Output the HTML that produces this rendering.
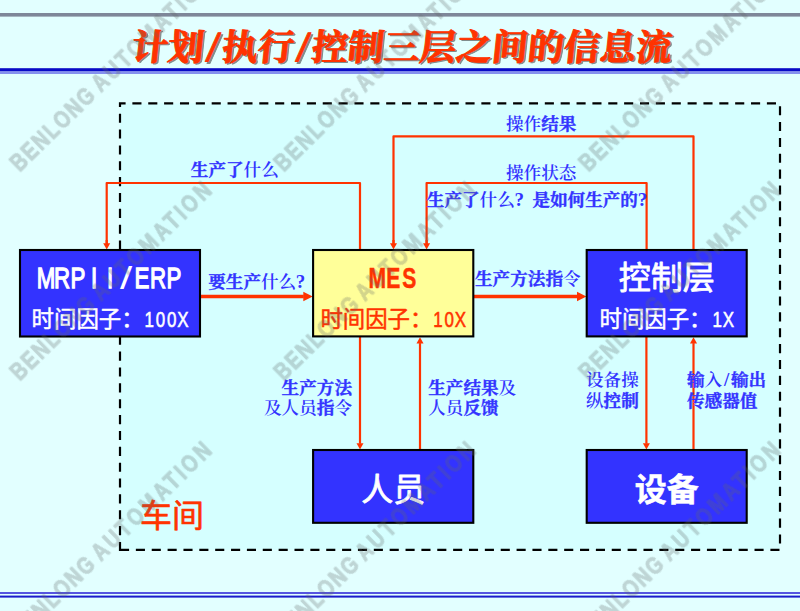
<!DOCTYPE html>
<html lang="zh-CN"><head><meta charset="utf-8"><title>计划/执行/控制三层之间的信息流</title>
<style>html,body{margin:0;padding:0;background:#e2ffff;overflow:hidden}svg{display:block}.sans{font-family:"Liberation Sans","Noto Sans CJK SC",sans-serif}.serif{font-family:"Liberation Serif","Noto Serif CJK SC",serif}</style></head><body>
<svg width="800" height="611" viewBox="0 0 800 611">
<rect width="800" height="611" fill="#e2ffff"/>
<rect x="0" y="13" width="800" height="3.6" fill="#7e8799"/>
<rect x="0" y="68.2" width="800" height="3.3" fill="#0909c6"/>
<rect x="0" y="71.5" width="800" height="2.5" fill="#8590ee"/>
<rect x="0" y="592" width="800" height="2" fill="#5555e0"/>
<rect x="0" y="595.6" width="800" height="2" fill="#1b1bcb"/>
<rect x="120" y="103.4" width="660" height="446.4" fill="#d5ffff"/>
<path d="M120,549.8 H780 V103.4 H120 Z" fill="none" stroke="#000" stroke-width="2.2" stroke-dasharray="9.1 6.763"/>
<path d="M360,250 V183 H106.7 V244" fill="none" stroke="#ff3300" stroke-width="2.2" stroke-linejoin="round"/>
<path d="M106.7,240.0 V243.7" fill="none" stroke="#ff3300" stroke-width="2.2"/>
<path d="M103.2,243.2 L110.2,243.2 L106.7,249.6 Z" fill="#ff3300"/>
<path d="M693.5,250 V136.3 H393.5 V244" fill="none" stroke="#ff3300" stroke-width="2.2" stroke-linejoin="round"/>
<path d="M393.5,240.0 V243.7" fill="none" stroke="#ff3300" stroke-width="2.2"/>
<path d="M390.0,243.2 L397.0,243.2 L393.5,249.6 Z" fill="#ff3300"/>
<path d="M646.6,250 V183 H426.6 V244" fill="none" stroke="#ff3300" stroke-width="2.2" stroke-linejoin="round"/>
<path d="M426.6,240.0 V243.7" fill="none" stroke="#ff3300" stroke-width="2.2"/>
<path d="M423.1,243.2 L430.1,243.2 L426.6,249.6 Z" fill="#ff3300"/>
<path d="M360.0,336.0 V443.7" fill="none" stroke="#ff3300" stroke-width="2.2"/>
<path d="M356.5,443.2 L363.5,443.2 L360.0,449.6 Z" fill="#ff3300"/>
<path d="M420.0,450.0 V343.1" fill="none" stroke="#ff3300" stroke-width="2.2"/>
<path d="M416.5,343.6 L423.5,343.6 L420.0,337.2 Z" fill="#ff3300"/>
<path d="M646.4,336.0 V443.7" fill="none" stroke="#ff3300" stroke-width="2.2"/>
<path d="M642.9,443.2 L649.9,443.2 L646.4,449.6 Z" fill="#ff3300"/>
<path d="M693.5,450.0 V343.1" fill="none" stroke="#ff3300" stroke-width="2.2"/>
<path d="M690.0,343.6 L697.0,343.6 L693.5,337.2 Z" fill="#ff3300"/>
<path d="M200.0,296.5 H303.8" fill="none" stroke="#ff3300" stroke-width="3.5"/>
<path d="M303.3,291.7 L303.3,301.3 L312.7,296.5 Z" fill="#ff3300"/>
<path d="M473.0,296.5 H577.5" fill="none" stroke="#ff3300" stroke-width="3.5"/>
<path d="M577.0,291.7 L577.0,301.3 L586.4,296.5 Z" fill="#ff3300"/>
<rect x="20.0" y="250.0" width="180.0" height="86.5" fill="#3333ff" stroke="#000" stroke-width="2.1"/>
<rect x="313.1" y="250.0" width="160.2" height="86.4" fill="#ffff99" stroke="#000" stroke-width="2.1"/>
<rect x="586.7" y="250.0" width="160.0" height="86.4" fill="#3333ff" stroke="#000" stroke-width="2.1"/>
<rect x="313.1" y="450.0" width="160.2" height="72.8" fill="#3333ff" stroke="#000" stroke-width="2.1"/>
<rect x="586.7" y="450.0" width="160.0" height="72.8" fill="#3333ff" stroke="#000" stroke-width="2.1"/>
<text class="sans" transform="scale(0.760,1)" x="60.53 81.58 102.63 123.68 144.74" y="287.8" font-size="29.3" font-weight="400" fill="#fff" text-anchor="middle" stroke="#fff" stroke-width="1.30">MRPII</text>
<text class="sans" transform="translate(126.00,289.3) scale(1.5,1.1)" x="0" y="0" font-size="29.3" font-weight="400" fill="#fff" text-anchor="middle">/</text>
<text class="sans" transform="scale(0.760,1)" x="186.84 207.89 228.95" y="287.8" font-size="29.3" font-weight="400" fill="#fff" text-anchor="middle" stroke="#fff" stroke-width="1.30">ERP</text>
<text class="sans" transform="scale(0.720,1)" x="523.89 546.11 568.33" y="287.8" font-size="29.3" font-weight="700" fill="#ff3300" text-anchor="middle" stroke="#ff3300" stroke-width="0.50">MES</text>
<text class="sans" x="666.7" y="289.2" font-size="32.0" font-weight="400" fill="#fff" text-anchor="middle" textLength="96" stroke="#fff" stroke-width="0.80" stroke-linejoin="round">控制层</text>
<text class="sans" x="393.2" y="500.8" font-size="32.0" font-weight="400" fill="#fff" text-anchor="middle" textLength="64" stroke="#fff" stroke-width="0.80" stroke-linejoin="round">人员</text>
<text class="sans" x="666.7" y="500.8" font-size="32.0" font-weight="700" fill="#fff" text-anchor="middle" textLength="64" stroke="#fff" stroke-width="0.50" stroke-linejoin="round">设备</text>
<text class="sans" x="31.6" y="326.8" font-size="22.4" font-weight="400" fill="#fff" text-anchor="start" textLength="112" stroke="#fff" stroke-width="0.50" stroke-linejoin="round">时间因子：</text>
<text class="sans" transform="scale(0.760,1)" x="196.32 211.05 225.79 240.53" y="326.8" font-size="22.3" font-weight="400" fill="#fff" text-anchor="middle" stroke="#fff" stroke-width="0.60">100X</text>
<text class="sans" x="320.4" y="326.8" font-size="22.4" font-weight="400" fill="#ff3300" text-anchor="start" textLength="112" stroke="#ff3300" stroke-width="0.50" stroke-linejoin="round">时间因子：</text>
<text class="sans" transform="scale(0.760,1)" x="576.32 591.05 605.79" y="326.8" font-size="22.3" font-weight="400" fill="#ff3300" text-anchor="middle" stroke="#ff3300" stroke-width="0.60">10X</text>
<text class="sans" x="599.5" y="326.8" font-size="22.4" font-weight="400" fill="#fff" text-anchor="start" textLength="112" stroke="#fff" stroke-width="0.50" stroke-linejoin="round">时间因子：</text>
<text class="sans" transform="scale(0.760,1)" x="943.55 958.29" y="326.8" font-size="22.3" font-weight="400" fill="#fff" text-anchor="middle" stroke="#fff" stroke-width="0.60">1X</text>
<text class="sans" x="140.0" y="526.8" font-size="32.0" font-weight="400" fill="#ff3300" text-anchor="start" textLength="64" stroke="#ff3300" stroke-width="0.60" stroke-linejoin="round">车间</text>
<defs><filter id="soft" x="-5%" y="-20%" width="110%" height="140%"><feGaussianBlur stdDeviation="0.6"/></filter></defs>
<g filter="url(#soft)">
<g class="serif" font-size="36" font-weight="700" fill="#808c8c" stroke="#808c8c" stroke-width="1.0" stroke-linejoin="round" transform="translate(2.6,61.3) skewX(-6)">
<text x="130.0" y="0" textLength="72">计划</text>
<text x="211.0" y="1.5" font-size="43" text-anchor="middle">/</text>
<text x="220.0" y="0" textLength="72">执行</text>
<text x="301.0" y="1.5" font-size="43" text-anchor="middle">/</text>
<text x="310.0" y="0" textLength="360">控制三层之间的信息流</text>
</g>
</g>
<g class="serif" font-size="36" font-weight="700" fill="#ff3300" stroke="#ff3300" stroke-width="1.0" stroke-linejoin="round" transform="translate(0.8,59.5) skewX(-6)">
<text x="130.0" y="0" textLength="72">计划</text>
<text x="211.0" y="1.5" font-size="43" text-anchor="middle">/</text>
<text x="220.0" y="0" textLength="72">执行</text>
<text x="301.0" y="1.5" font-size="43" text-anchor="middle">/</text>
<text x="310.0" y="0" textLength="360">控制三层之间的信息流</text>
</g>
<text class="serif" x="190.8" y="176.3" font-size="17.6" font-weight="700" fill="#3333ff" stroke="#3333ff" stroke-width="0.35">生产了</text>
<text class="serif" x="243.6" y="176.3" font-size="17.6" font-weight="600" fill="#3333ff">什么</text>
<text class="serif" x="208.2" y="287.7" font-size="17.6" font-weight="700" fill="#3333ff" stroke="#3333ff" stroke-width="0.35">要生产</text>
<text class="serif" x="261.0" y="287.7" font-size="17.6" font-weight="600" fill="#3333ff">什么</text>
<text class="serif" x="300.6" y="287.7" font-size="19.0" font-weight="600" fill="#3333ff" text-anchor="middle">?</text>
<text class="serif" x="475.0" y="285.2" font-size="17.6" font-weight="700" fill="#3333ff" stroke="#3333ff" stroke-width="0.35">生产方法指</text>
<text class="serif" x="563.0" y="285.2" font-size="17.6" font-weight="600" fill="#3333ff">令</text>
<text class="serif" x="506.0" y="129.5" font-size="17.6" font-weight="600" fill="#3333ff">操作</text>
<text class="serif" x="541.2" y="129.5" font-size="17.6" font-weight="700" fill="#3333ff" stroke="#3333ff" stroke-width="0.35">结果</text>
<text class="serif" x="506.0" y="179.0" font-size="17.6" font-weight="600" fill="#3333ff">操作状态</text>
<text class="serif" x="426.8" y="206.2" font-size="17.6" font-weight="700" fill="#3333ff" stroke="#3333ff" stroke-width="0.35">生产了</text>
<text class="serif" x="479.6" y="206.2" font-size="17.6" font-weight="600" fill="#3333ff">什么</text>
<text class="serif" x="519.2" y="206.2" font-size="19.0" font-weight="600" fill="#3333ff" text-anchor="middle">?</text>
<text class="serif" x="532.4" y="206.2" font-size="17.6" font-weight="700" fill="#3333ff" stroke="#3333ff" stroke-width="0.35">是如何生产的</text>
<text class="serif" x="642.4" y="206.2" font-size="19.0" font-weight="600" fill="#3333ff" text-anchor="middle">?</text>
<text class="serif" x="281.6" y="393.8" font-size="17.6" font-weight="700" fill="#3333ff" stroke="#3333ff" stroke-width="0.35">生产方法</text>
<text class="serif" x="264.0" y="414.4" font-size="17.6" font-weight="600" fill="#3333ff">及人员</text>
<text class="serif" x="316.8" y="414.4" font-size="17.6" font-weight="700" fill="#3333ff" stroke="#3333ff" stroke-width="0.35">指</text>
<text class="serif" x="334.4" y="414.4" font-size="17.6" font-weight="600" fill="#3333ff">令</text>
<text class="serif" x="428.2" y="393.8" font-size="17.6" font-weight="700" fill="#3333ff" stroke="#3333ff" stroke-width="0.35">生产结果</text>
<text class="serif" x="498.6" y="393.8" font-size="17.6" font-weight="600" fill="#3333ff">及</text>
<text class="serif" x="428.2" y="414.4" font-size="17.6" font-weight="600" fill="#3333ff">人员</text>
<text class="serif" x="463.4" y="414.4" font-size="17.6" font-weight="700" fill="#3333ff" stroke="#3333ff" stroke-width="0.35">反馈</text>
<text class="serif" x="586.0" y="386.2" font-size="17.6" font-weight="600" fill="#3333ff">设备操</text>
<text class="serif" x="586.0" y="407.0" font-size="17.6" font-weight="600" fill="#3333ff">纵</text>
<text class="serif" x="603.6" y="407.0" font-size="17.6" font-weight="700" fill="#3333ff" stroke="#3333ff" stroke-width="0.35">控制</text>
<text class="serif" x="687.0" y="386.2" font-size="17.6" font-weight="700" fill="#3333ff" stroke="#3333ff" stroke-width="0.35">输</text>
<text class="serif" x="704.6" y="386.2" font-size="17.6" font-weight="600" fill="#3333ff">入</text>
<text class="serif" x="726.6" y="386.2" font-size="19.0" font-weight="600" fill="#3333ff" text-anchor="middle">/</text>
<text class="serif" x="731.0" y="386.2" font-size="17.6" font-weight="700" fill="#3333ff" stroke="#3333ff" stroke-width="0.35">输出</text>
<text class="serif" x="687.0" y="407.0" font-size="17.6" font-weight="700" fill="#3333ff" stroke="#3333ff" stroke-width="0.35">传感器值</text>
<g font-family='"Liberation Sans",sans-serif' font-size="23" font-weight="700" fill="#646a6a" stroke="#646a6a" stroke-width="1.0" stroke-linejoin="round" opacity="0.28">
<g transform="translate(20.6,171.7) rotate(-44.4)"><text transform="scale(0.84,1)" x="-1.5" textLength="128.1" lengthAdjust="spacing">BENLONG</text><text transform="scale(0.84,1)" x="134.0" textLength="186.7" lengthAdjust="spacing">AUTOMATION</text></g>
<g transform="translate(284.6,171.7) rotate(-44.4)"><text transform="scale(0.84,1)" x="-1.5" textLength="128.1" lengthAdjust="spacing">BENLONG</text><text transform="scale(0.84,1)" x="134.0" textLength="186.7" lengthAdjust="spacing">AUTOMATION</text></g>
<g transform="translate(589.4,171.7) rotate(-44.4)"><text transform="scale(0.84,1)" x="-1.5" textLength="128.1" lengthAdjust="spacing">BENLONG</text><text transform="scale(0.84,1)" x="134.0" textLength="186.7" lengthAdjust="spacing">AUTOMATION</text></g>
<g transform="translate(20.6,380.7) rotate(-44.4)"><text transform="scale(0.84,1)" x="-1.5" textLength="128.1" lengthAdjust="spacing">BENLONG</text><text transform="scale(0.84,1)" x="134.0" textLength="186.7" lengthAdjust="spacing">AUTOMATION</text></g>
<g transform="translate(284.6,380.7) rotate(-44.4)"><text transform="scale(0.84,1)" x="-1.5" textLength="128.1" lengthAdjust="spacing">BENLONG</text><text transform="scale(0.84,1)" x="134.0" textLength="186.7" lengthAdjust="spacing">AUTOMATION</text></g>
<g transform="translate(589.4,380.7) rotate(-44.4)"><text transform="scale(0.84,1)" x="-1.5" textLength="128.1" lengthAdjust="spacing">BENLONG</text><text transform="scale(0.84,1)" x="134.0" textLength="186.7" lengthAdjust="spacing">AUTOMATION</text></g>
<g transform="translate(20.6,640.7) rotate(-44.4)"><text transform="scale(0.84,1)" x="-1.5" textLength="128.1" lengthAdjust="spacing">BENLONG</text><text transform="scale(0.84,1)" x="134.0" textLength="186.7" lengthAdjust="spacing">AUTOMATION</text></g>
<g transform="translate(284.6,640.7) rotate(-44.4)"><text transform="scale(0.84,1)" x="-1.5" textLength="128.1" lengthAdjust="spacing">BENLONG</text><text transform="scale(0.84,1)" x="134.0" textLength="186.7" lengthAdjust="spacing">AUTOMATION</text></g>
<g transform="translate(589.4,640.7) rotate(-44.4)"><text transform="scale(0.84,1)" x="-1.5" textLength="128.1" lengthAdjust="spacing">BENLONG</text><text transform="scale(0.84,1)" x="134.0" textLength="186.7" lengthAdjust="spacing">AUTOMATION</text></g>
</g>
</svg></body></html>
